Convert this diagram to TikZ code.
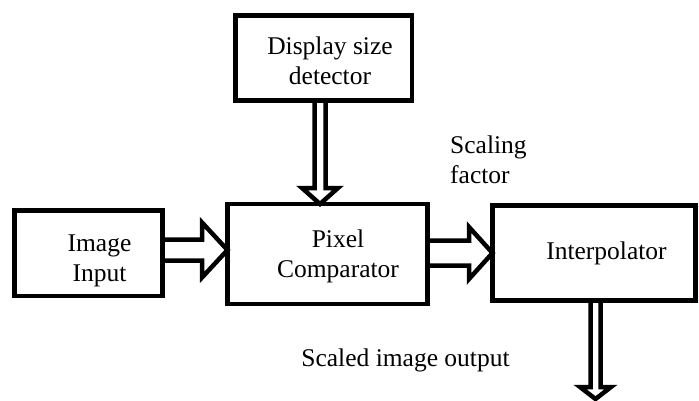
\documentclass[tikz,border=0pt]{standalone}
\usepackage{fontspec}
\setmainfont{Liberation Serif}
\usetikzlibrary{calc}
\begin{document}
\begin{tikzpicture}[x=1pt,y=1pt,
  box/.style={draw=black,line width=4.5pt,inner sep=0pt,outer sep=0pt,line join=miter},
  txt/.style={font=\fontsize{25.5}{30}\selectfont,align=center,inner sep=0pt},
  blockarrow/.style={draw=black,line width=4.5pt,line join=miter,miter limit=20}]
\useasboundingbox (0,0) rectangle (699,400);
% boxes
\node[box,minimum width=176.5pt,minimum height=85pt] (disp) at (323.75,342) {};
\node[box,minimum width=148pt,minimum height=85.5pt] (inp) at (88.5,146.75) {};
\node[box,minimum width=200pt,minimum height=100pt] (comp) at (327.5,146) {};
\node[box,minimum width=203pt,minimum height=95pt] (interp) at (594,147) {};
\coordinate (out) at (595.5,1);
% texts
\node[txt] (disptxt) at (330,339) {Display size\\detector};
\node[txt] (inptxt) at (99.5,139) {Image\\Input};
\node[txt] (comptxt) at (338,144) {Pixel\\Comparator};
\node[txt] (interptxt) at (606.5,147) {Interpolator};
\node[txt,align=left,anchor=west] (scal) at (450,240) {Scaling\\factor};
\node[txt] (outtxt) at (405.5,40) {Scaled image output};
% block arrows
\draw[blockarrow] (inp.east |- 0,160.5) -- (202,160.5) -- (202,177.5) -- (comp.west |- 0,150)
  -- (202,122.5) -- (202,139.5) -- (inp.east |- 0,139.5);
\draw[blockarrow] (comp.east |- 0,159.5) -- (469,159.5) -- (469,173) -- (interp.west |- 0,147)
  -- (469,121) -- (469,134.5) -- (comp.east |- 0,134.5);
\draw[blockarrow] (314.5,0 |- disp.south) -- (314.5,212) -- (302,212) -- (320,0 |- comp.north)
  -- (338,212) -- (325.5,212) -- (325.5,0 |- disp.south);
\draw[blockarrow] (590.5,0 |- interp.south) -- (590.5,13) -- (580,13) -- (out)
  -- (611,13) -- (600.5,13) -- (600.5,0 |- interp.south);
\end{tikzpicture}
\end{document}
